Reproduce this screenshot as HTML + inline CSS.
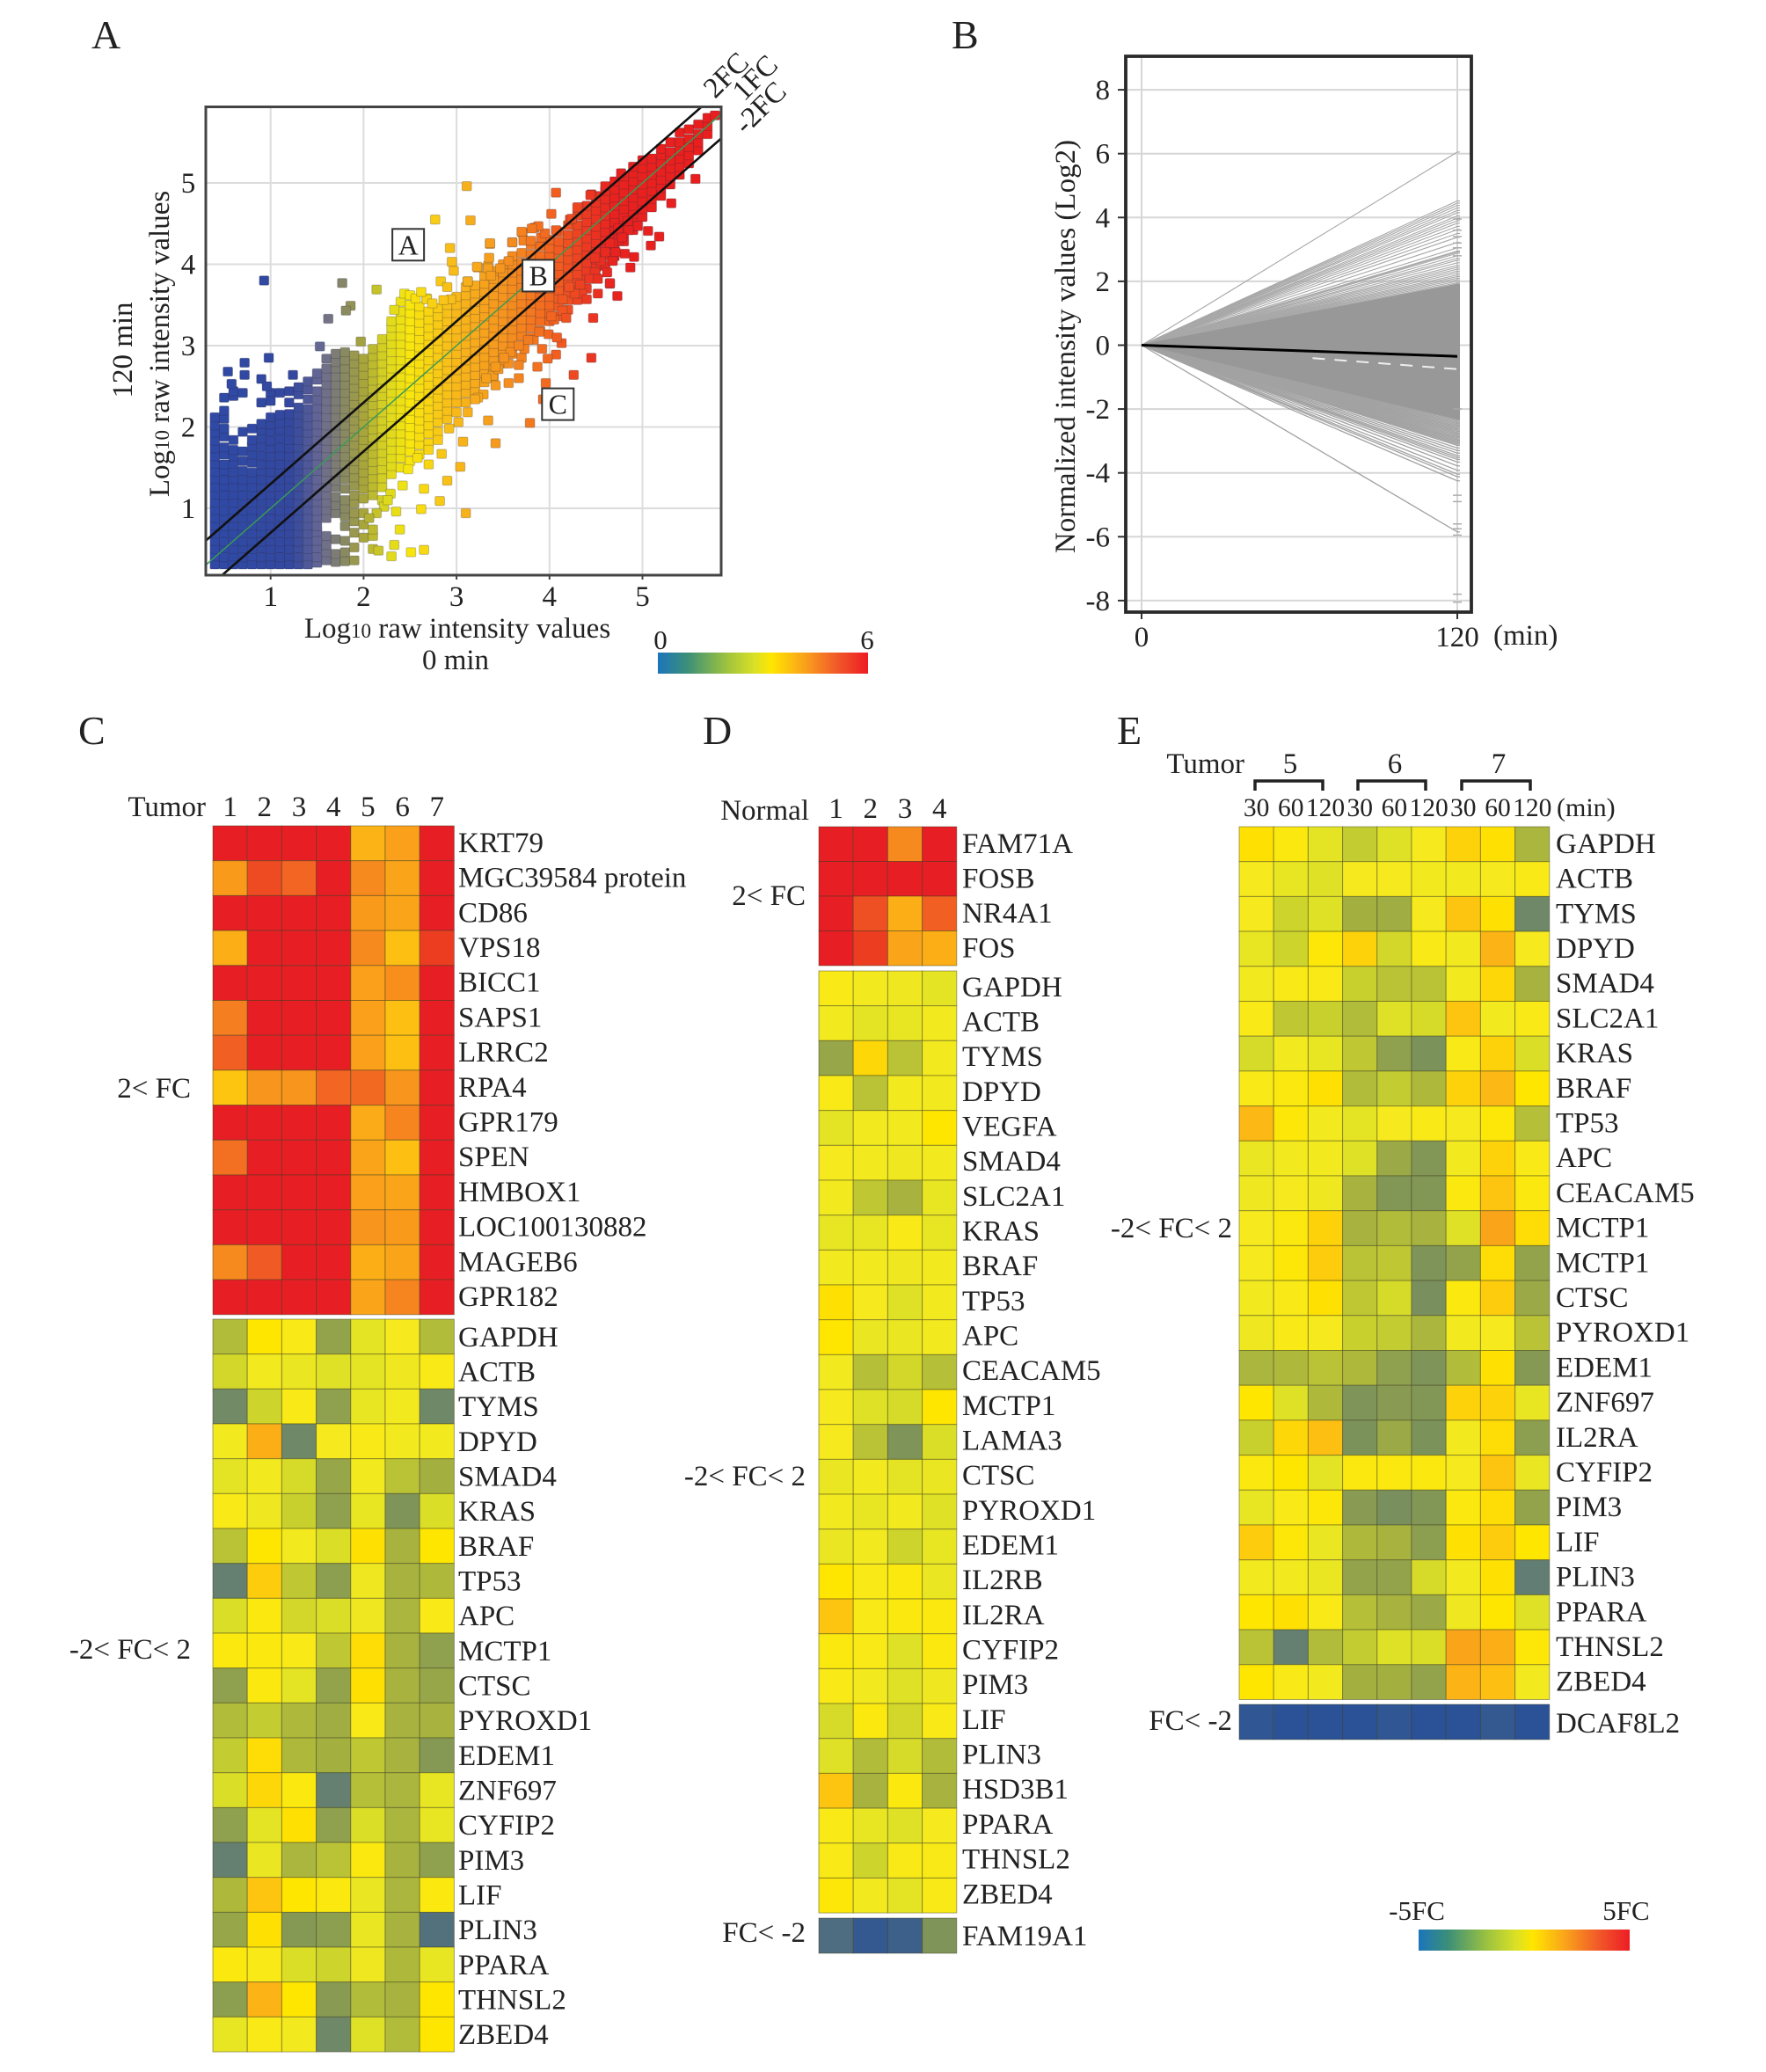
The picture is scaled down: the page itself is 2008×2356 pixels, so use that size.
<!DOCTYPE html>
<html lang="en">
<head>
<meta charset="utf-8">
<title>Scatter, fold-change lines and expression heatmaps</title>
<style>
html,body{margin:0;padding:0;background:#fff;}
svg{display:block;}
text{font-family:"Liberation Serif",serif;fill:#222;}
</style>
</head>
<body>
<svg id="figure" xmlns="http://www.w3.org/2000/svg" width="2008" height="2356" viewBox="0 0 2008 2356">
<defs>
<linearGradient id="barA" x1="0" x2="1" y1="0" y2="0">
<stop offset="0" stop-color="#1b75bb"/><stop offset=".14" stop-color="#3b8f78"/><stop offset=".33" stop-color="#9fc43e"/><stop offset=".46" stop-color="#d9e026"/><stop offset=".54" stop-color="#ffe600"/><stop offset=".7" stop-color="#f9a11b"/><stop offset=".85" stop-color="#f15a29"/><stop offset="1" stop-color="#ed1c24"/>
</linearGradient>
</defs>
<rect width="2008" height="2356" fill="#fff"/>

<text x="104" y="55" font-size="46">A</text>
<text x="1082" y="55" font-size="46">B</text>
<text x="89" y="846" font-size="46">C</text>
<text x="799" y="846" font-size="46">D</text>
<text x="1270" y="846" font-size="46">E</text>

<g id="panelA"></g>
<text x="520" y="725" font-size="33" text-anchor="middle">Log<tspan font-size="23">10</tspan> raw intensity values</text>
<text x="518" y="761" font-size="33" text-anchor="middle">0 min</text>
<text transform="translate(150,398) rotate(-90)" font-size="33" text-anchor="middle">120 min</text>
<text transform="translate(192,391) rotate(-90)" font-size="33" text-anchor="middle">Log<tspan font-size="23">10</tspan> raw intensity values</text>
<text transform="translate(813,113) rotate(-45)" font-size="33">2FC</text>
<text transform="translate(846,116) rotate(-45)" font-size="33">1FC</text>
<text transform="translate(848,154) rotate(-45)" font-size="33">-2FC</text>
<rect x="748" y="742" width="239" height="24" fill="url(#barA)"/>
<text x="751" y="738" font-size="31" text-anchor="middle">0</text>
<text x="986" y="738" font-size="31" text-anchor="middle">6</text>

<g id="panelB"></g>
<text transform="translate(1222,394) rotate(-90)" font-size="33" text-anchor="middle">Normalized intensity values (Log2)</text>
<text x="1698" y="733" font-size="33">(min)</text>

<g id="panelC"></g>
<g id="panelD"></g>
<g id="panelE"></g>

<text x="234" y="928" font-size="33" text-anchor="end">Tumor</text>
<text x="217" y="1248" font-size="33" text-anchor="end">2&lt; FC</text>
<text x="217" y="1886" font-size="33" text-anchor="end">-2&lt; FC&lt; 2</text>
<text x="920" y="932" font-size="33" text-anchor="end">Normal</text>
<text x="916" y="1029" font-size="33" text-anchor="end">2&lt; FC</text>
<text x="916" y="1689" font-size="33" text-anchor="end">-2&lt; FC&lt; 2</text>
<text x="916" y="2208" font-size="33" text-anchor="end">FC&lt; -2</text>
<text x="1415" y="879" font-size="33" text-anchor="end">Tumor</text>
<text x="1401" y="1407" font-size="33" text-anchor="end">-2&lt; FC&lt; 2</text>
<text x="1401" y="1967" font-size="33" text-anchor="end">FC&lt; -2</text>
<text x="1770" y="928" font-size="30">(min)</text>
<path d="M1427 899V888H1504V899" fill="none" stroke="#222" stroke-width="3.5"/>
<path d="M1544 899V888H1621V899" fill="none" stroke="#222" stroke-width="3.5"/>
<path d="M1662 899V888H1740V899" fill="none" stroke="#222" stroke-width="3.5"/>
<text x="1467" y="879" font-size="33" text-anchor="middle">5</text>
<text x="1586" y="879" font-size="33" text-anchor="middle">6</text>
<text x="1704" y="879" font-size="33" text-anchor="middle">7</text>
<rect x="1613" y="2194" width="240" height="24" fill="url(#barA)"/>
<text x="1611" y="2183" font-size="31" text-anchor="middle">-5FC</text>
<text x="1849" y="2183" font-size="31" text-anchor="middle">5FC</text>
</svg>

<script>
/* ---------- Panel A data: log10 intensities (0 min on x, 120 min on y) ---------- */
var scatterXTicks = [1, 2, 3, 4, 5];
var scatterYTicks = [1, 2, 3, 4, 5];
var foldLineOffsets = [0.3, 0, -0.3];
/* each column: first value is x, remaining values are y readings */
var scatterColumns = [
[.40,.31,.41,.50,.60,.69,.79,.88,.98,1.07,1.17,1.26,1.36,1.45,1.55,1.64,1.74,1.83,1.93,2.02,2.12],
[.50,.31,.40,.51,.59,.70,.78,.89,.97,1.08,1.16,1.27,1.35,1.46,1.54,1.66,1.75,1.88,1.98,2.10,2.20,2.36],
[.60,.31,.41,.50,.60,.69,.79,.88,.98,1.07,1.17,1.26,1.36,1.45,1.55,1.64,1.72,1.84,2.38,2.44],
[.70,.31,.40,.51,.59,.70,.78,.89,.97,1.08,1.16,1.27,1.35,1.46,1.58,1.70,1.94,2.42],
[.80,.31,.41,.50,.60,.69,.79,.88,.98,1.07,1.17,1.26,1.36,1.44,1.56,1.66,1.76,1.84,1.98],
[.90,.31,.40,.51,.59,.70,.78,.89,.97,1.08,1.16,1.27,1.35,1.46,1.54,1.65,1.76,1.86,1.96,2.04,2.30],
[1.00,.31,.41,.50,.60,.69,.79,.88,.98,1.07,1.17,1.26,1.36,1.45,1.55,1.64,1.74,1.83,1.94,2.03,2.12,2.42,2.32],
[1.10,.31,.40,.51,.59,.70,.78,.89,.97,1.08,1.16,1.27,1.35,1.46,1.54,1.65,1.75,1.86,1.96,2.05,2.15,2.42],
[1.20,.31,.41,.50,.60,.69,.79,.88,.98,1.07,1.17,1.26,1.36,1.45,1.55,1.64,1.74,1.84,1.95,2.06,2.16,2.30,2.44],
[1.30,.31,.40,.51,.59,.70,.78,.89,.97,1.08,1.16,1.27,1.35,1.46,1.54,1.65,1.75,1.84,1.94,2.05,2.15,2.24,2.40,2.49],
[1.40,.31,.41,.50,.60,.69,.79,.88,.98,1.07,1.17,1.26,1.36,1.45,1.55,1.64,1.74,1.83,1.93,2.02,2.12,2.22,2.34,2.46,2.56],
[1.50,.33,.40,.51,.60,.71,.78,.89,.97,1.08,1.16,1.27,1.35,1.46,1.54,1.65,1.75,1.84,1.94,2.03,2.13,2.23,2.33,2.44,2.58,2.66],
[1.60,.36,.46,.55,.66,.88,.98,1.07,1.17,1.26,1.36,1.45,1.55,1.64,1.74,1.83,1.93,2.02,2.12,2.22,2.32,2.42,2.52,2.62,2.72,2.84],
[1.70,.34,.44,.62,.94,1.04,1.14,1.26,1.34,1.45,1.55,1.64,1.74,1.83,1.93,2.02,2.12,2.22,2.32,2.42,2.52,2.62,2.72,2.80,2.90],
[1.80,.35,.46,.60,.78,.90,1.00,1.10,1.24,1.36,1.45,1.55,1.64,1.74,1.83,1.93,2.02,2.12,2.22,2.32,2.42,2.52,2.62,2.72,2.82,2.92],
[1.90,.36,.52,.70,.84,.94,1.06,1.16,1.28,1.38,1.48,1.58,1.68,1.78,1.88,1.98,2.08,2.18,2.28,2.38,2.48,2.58,2.68,2.78,2.88],
[2.00,.64,.80,.94,1.12,1.24,1.34,1.44,1.54,1.64,1.74,1.84,1.94,2.04,2.14,2.24,2.34,2.44,2.54,2.64,2.74,2.84],
[2.10,.50,.66,1.16,1.27,1.37,1.47,1.57,1.67,1.77,1.87,1.97,2.07,2.17,2.27,2.37,2.47,2.57,2.67,2.77,2.87,2.96],
[2.20,1.10,1.26,1.37,1.48,1.58,1.68,1.78,1.88,1.98,2.08,2.18,2.28,2.38,2.48,2.58,2.68,2.78,2.88,2.98,3.08],
[2.30,1.42,1.52,1.62,1.72,1.82,1.92,2.02,2.12,2.22,2.32,2.42,2.52,2.62,2.72,2.82,2.92,3.02,3.12,3.22,3.30],
[2.40,1.50,1.62,1.72,1.82,1.92,2.02,2.12,2.22,2.32,2.42,2.52,2.62,2.72,2.82,2.92,3.02,3.12,3.22,3.32,3.42,3.54],
[2.50,1.58,1.70,1.80,1.90,2.00,2.10,2.20,2.30,2.40,2.50,2.60,2.70,2.80,2.90,3.00,3.10,3.20,3.30,3.40,3.50],
[2.60,1.66,1.78,1.88,1.98,2.08,2.18,2.28,2.38,2.48,2.58,2.68,2.78,2.88,2.98,3.08,3.18,3.28,3.38,3.48],
[2.70,1.80,1.92,2.02,2.12,2.22,2.32,2.42,2.52,2.62,2.72,2.82,2.92,3.02,3.12,3.22,3.32,3.42],
[2.80,1.94,2.06,2.16,2.26,2.36,2.46,2.56,2.66,2.76,2.86,2.96,3.06,3.16,3.26,3.36,3.46],
[2.90,2.10,2.20,2.30,2.40,2.50,2.60,2.70,2.80,2.90,3.00,3.10,3.20,3.30,3.40,3.50],
[3.00,2.18,2.30,2.40,2.50,2.60,2.70,2.80,2.90,3.00,3.10,3.20,3.30,3.40,3.50,3.60],
[3.10,2.30,2.42,2.52,2.62,2.72,2.82,2.92,3.02,3.12,3.22,3.32,3.42,3.52,3.62,3.72],
[3.20,2.44,2.54,2.64,2.74,2.84,2.94,3.04,3.14,3.24,3.34,3.44,3.54,3.64,3.74],
[3.30,2.55,2.66,2.76,2.86,2.96,3.06,3.16,3.26,3.36,3.46,3.56,3.66,3.76,3.86],
[3.40,2.60,2.72,2.82,2.92,3.02,3.12,3.22,3.32,3.42,3.52,3.62,3.72,3.82,3.92],
[3.50,2.78,2.90,3.00,3.10,3.20,3.30,3.40,3.50,3.60,3.70,3.80,3.90,4.00],
[3.60,2.90,3.00,3.10,3.20,3.30,3.40,3.50,3.60,3.70,3.80,3.90,4.00,4.10],
[3.70,3.00,3.12,3.22,3.32,3.42,3.52,3.62,3.72,3.82,3.92,4.02,4.14],
[3.80,3.10,3.22,3.32,3.42,3.52,3.62,3.72,3.82,3.92,4.02,4.12,4.24],
[3.90,3.18,3.30,3.40,3.50,3.60,3.70,3.80,3.90,4.00,4.10,4.22],
[4.00,3.30,3.40,3.50,3.60,3.70,3.80,3.90,4.00,4.10,4.20,4.30],
[4.10,3.36,3.48,3.58,3.68,3.78,3.88,3.98,4.08,4.18,4.28,4.40],
[4.20,3.44,3.56,3.66,3.76,3.86,3.96,4.06,4.16,4.26,4.36,4.48],
[4.30,3.56,3.68,3.78,3.88,3.98,4.08,4.18,4.28,4.38,4.48,4.60],
[4.40,3.70,3.82,3.92,4.02,4.12,4.22,4.32,4.42,4.52,4.62,4.72],
[4.50,3.84,3.96,4.06,4.16,4.26,4.36,4.46,4.56,4.66,4.76,4.84],
[4.60,3.98,4.10,4.20,4.30,4.40,4.50,4.60,4.70,4.80,4.90,4.96],
[4.70,4.10,4.22,4.32,4.42,4.52,4.62,4.72,4.82,4.92,5.02],
[4.80,4.28,4.38,4.48,4.58,4.68,4.78,4.88,4.98,5.08],
[4.90,4.42,4.52,4.62,4.72,4.82,4.92,5.02,5.12,5.20],
[5.00,4.58,4.68,4.78,4.88,4.98,5.08,5.18,5.28],
[5.10,4.70,4.80,4.90,5.00,5.10,5.20,5.30],
[5.20,4.84,4.94,5.04,5.14,5.24,5.34,5.42],
[5.30,4.98,5.08,5.18,5.28,5.38,5.50],
[5.40,5.10,5.20,5.30,5.40,5.50,5.62],
[5.50,5.24,5.34,5.44,5.54,5.66],
[5.60,5.40,5.50,5.60,5.72],
[5.70,5.60,5.70,5.80],
[5.78,5.83]
];
var outlierX = [.93,.72,.72,.54,.98,1.24,.90,.96,.58,1.53,1.97,1.62,1.86,1.81,1.77,2.14,2.77,3.11,3.15,2.93,2.95,2.97,2.83,2.90,3.12,3.23,3.36,3.34,3.60,3.71,3.84,3.91,4.07,4.02,4.45,4.31,4.22,2.44,2.33,2.68,5.57,5.31,5.18,5.06,5.09,4.91,4.87,4.73,4.65,4.47,4.45,4.26,4.13,4.07,3.98,3.87,3.96,3.93,3.79,3.42,3.34,3.07,3.04,2.90,2.82,3.10,2.65,2.62,2.70,2.84,2.65,2.51,2.30,2.16,2.42,2.29,2.35,2.39,2.33,2.10,
4.90,4.95,4.85,4.74,4.81,4.71,4.68,4.62,4.65,4.49,4.52,4.35,4.27,4.14,4.05,4.18,3.99,4.08,3.92,3.70,3.67,3.56,3.67,3.56,3.42,3.29,3.23,3.39,3.83,3.73,3.58,3.45,4.33,4.43,4.55,4.60,4.68,4.78,4.40,4.21,4.14,4.02,3.89,3.77,3.67,3.51,3.42,3.32,4.52,4.49,4.65,4.74,4.84,
4.44,4.30,4.24,4.77,4.07,3.95,3.88,3.81,3.70,3.72,3.80,3.60,3.36,3.35,3.34,3.22,3.56,3.47,3.37,2.94,3.12,2.68,2.50,2.56,2.62,2.74,2.86,
3.12,3.02,2.92,2.80,2.70,2.58,2.48,3.20,2.22,2.14,2.06,2.26];
var outlierY = [3.80,2.79,2.64,2.68,2.85,2.64,2.59,2.50,2.53,2.99,3.05,3.33,3.49,3.43,3.77,3.69,4.55,4.96,4.54,4.20,4.03,3.92,3.79,3.72,3.79,3.96,4.25,3.98,4.27,4.39,4.45,4.33,4.88,4.62,4.86,4.70,4.55,3.64,3.44,3.58,5.05,4.75,4.34,4.41,4.23,4.09,3.96,3.61,3.76,3.34,2.85,2.64,3.03,2.89,2.84,2.74,2.54,2.34,2.05,1.80,2.08,1.82,1.51,1.34,1.09,.94,1.24,.99,1.54,1.67,.49,.46,.41,.48,1.28,1.18,.96,.74,.55,.74,
4.47,4.47,4.42,4.29,4.13,4.15,4.04,3.90,3.77,3.90,3.64,3.64,3.64,3.43,3.32,3.34,3.14,3.10,2.96,2.85,2.76,2.78,2.60,2.54,2.51,2.40,2.36,2.63,3.07,2.96,2.92,2.71,3.75,3.82,4.04,4.15,4.26,4.33,3.57,3.72,3.57,3.36,3.17,3.07,3.00,2.85,2.74,2.60,3.82,4.08,4.26,4.44,4.53,
4.85,4.70,4.56,5.12,4.42,4.38,4.47,4.44,4.40,4.29,4.29,4.27,4.26,4.08,3.95,3.97,4.04,3.95,3.86,3.57,3.79,3.57,3.62,3.58,3.66,3.52,3.56,
2.18,2.06,1.98,1.84,1.72,1.62,1.48,2.34,1.02,.94,.88,1.10];
var scatterBoxLabels = ["A", "B", "C"];
var scatterBoxLabelX = [2.48, 3.88, 4.09];
var scatterBoxLabelY = [4.24, 3.86, 2.28];

/* ---------- Panel B data: log2 value at 120 min for each line (all start at 0) ---------- */
var lineYTicks = [8, 6, 4, 2, 0, -2, -4, -6, -8];
var lineXTicks = [0, 120];
var fanUpper = [6.05,4.52,4.45,4.38,4.30,4.22,4.15,4.05,3.98,3.90,3.82,3.72,3.62,3.50,3.38,3.22,3.05,2.95,2.92,2.88,2.80,2.72,2.66,2.58,2.50,2.44,2.38,2.32,2.26,2.20,2.15,2.10,2.05,2.00,1.95];
var fanCore = [1.90,1.86,1.82,1.78,1.74,1.70,1.66,1.62,1.58,1.54,1.50,1.46,1.42,1.38,1.34,1.30,1.26,1.22,1.18,1.14,1.10,1.06,1.02,.98,.94,.90,.86,.82,.78,.74,.70,.66,.62,.58,.54,.50,.46,.42,.38,.34,.30,.26,.22,.18,.14,.10,.06,.02,-.02,-.06,-.10,-.14,-.18,-.22,-.26,-.30,-.34,-.38,-.42,-.46,-.50,-.54,-.58,-.62,-.66,-.70,-.74,-.78,-.82,-.86,-.90,-.94,-.98,-1.02,-1.06,-1.10,-1.14,-1.18,-1.22,-1.26,-1.30,-1.34,-1.38,-1.42,-1.46,-1.50,-1.54,-1.58,-1.62,-1.66,-1.70,-1.74,-1.78,-1.82,-1.86,-1.90,-1.94,-1.98,-2.02,-2.06,-2.10,-2.14,-2.18,-2.22,-2.26,-2.30];
var fanLower = [-2.34,-2.38,-2.42,-2.46,-2.50,-2.54,-2.58,-2.62,-2.66,-2.70,-2.74,-2.78,-2.82,-2.86,-2.90,-2.94,-2.98,-3.02,-3.06,-3.10,-3.14,-3.22,-3.30,-3.38,-3.46,-3.52,-3.58,-3.66,-3.78,-3.92,-4.04,-4.12,-4.25,-5.85];
var endMarks = [3.95,3.60,3.40,3.20,3.05,2.80,-2.00,-4.70,-4.90,-5.60,-5.75,-5.95,-7.80,-8.05];
var meanLineEnd = -0.35;
var dashedLineEnd = -0.75;

/* ---------- Heatmap data: fold change, -5 to 5 ---------- */
var tumorColumns = ["1","2","3","4","5","6","7"];
var normalColumns = ["1","2","3","4"];
var timeColumns = ["30","60","120","30","60","120","30","60","120"];

var cUpGenes = ["KRT79","MGC39584 protein","CD86","VPS18","BICC1","SAPS1","LRRC2","RPA4","GPR179","SPEN","HMBOX1","LOC100130882","MAGEB6","GPR182"];
var cUpValues = [
[5,5,5,5,1.3,1.7,5],[1.8,3.3,2.8,5,2.1,1.6,5],[5,5,5,5,1.8,1.6,5],[1.4,5,5,5,2.1,1.1,3.6],
[5,5,5,5,1.7,2,5],[2.3,5,5,5,1.7,1.1,5],[2.9,5,5,5,1.7,1.1,5],[1,1.9,1.9,2.8,2.7,1.9,5],
[5,5,5,5,1.5,2.2,5],[2.6,5,5,5,1.6,1.1,5],[5,5,5,5,1.7,1.6,5],[5,5,5,5,1.9,1.8,5],
[2.1,3,5,5,1.4,1.6,5],[5,5,5,5,1.6,2.2,5]];
var cMidGenes = ["GAPDH","ACTB","TYMS","DPYD","SMAD4","KRAS","BRAF","TP53","APC","MCTP1","CTSC","PYROXD1","EDEM1","ZNF697","CYFIP2","PIM3","LIF","PLIN3","PPARA","THNSL2","ZBED4"];
var cMidValues = [
[-1.6,.4,.1,-2.4,-.5,0,-1.6],[-.9,-.1,-.3,-.6,-.5,-.2,.1],[-3.4,-1,.1,-2.5,-.4,-.1,-3.5],
[-.1,1.4,-3.5,0,.1,-.1,-.1],[-.5,-.1,-.8,-2.3,-.1,-1.4,-2],[.1,-.2,-1.1,-2.5,-.4,-3,-.7],
[-1.4,.4,-.1,-.7,.5,-1.9,.4],[-3.8,.9,-1.3,-2.6,-.2,-1.9,-1.7],[-.7,.2,-.9,-.7,-.2,-1.8,.1],
[.2,.2,.1,-1.3,.6,-1.9,-2.5],[-2.5,.2,-.5,-2.4,.5,-1.9,-2.3],[-1.6,-1.2,-1.7,-2.1,.1,-1.9,-1.9],
[-1.2,.6,-1.7,-2,-1.3,-1.9,-2.8],[-.7,.7,.2,-3.8,-1.5,-1.8,-.4],[-2.5,-.5,.5,-2.5,-.7,-1.8,-.4],
[-3.8,-.3,-1.8,-1.4,.2,-1.9,-2.5],[-1.7,1,.4,.2,-.3,-1.8,.2],[-2.3,.5,-2.8,-2.6,-.3,-1.9,-4.2],
[.2,.1,-.7,-1,-.2,-1.7,-.4],[-2.6,1.3,.4,-2.7,-1.6,-1.9,.4],[-.4,.1,-.1,-3.5,-.6,-1.6,.4]];

var dUpGenes = ["FAM71A","FOSB","NR4A1","FOS"];
var dUpValues = [[5,5,2.1,5],[5,5,5,5],[5,3.2,1.4,2.9],[5,3.6,1.6,1.4]];
var dMidGenes = ["GAPDH","ACTB","TYMS","DPYD","VEGFA","SMAD4","SLC2A1","KRAS","BRAF","TP53","APC","CEACAM5","MCTP1","LAMA3","CTSC","PYROXD1","EDEM1","IL2RB","IL2RA","CYFIP2","PIM3","LIF","PLIN3","HSD3B1","PPARA","THNSL2","ZBED4"];
var dMidValues = [
[.1,-.1,-.2,-.5],[-.1,-.5,-.4,-.1],[-2.3,.7,-1.4,-.1],[.1,-1.4,-.1,-.1],[-.5,-.1,-.1,.4],
[0,-.1,-.2,-.1],[-.1,-1.3,-1.9,-.4],[-.4,-.4,.1,-.4],[-.1,-.1,-.2,-.1],[.5,0,-.6,-.1],
[.4,-.3,-.3,-.1],[-.1,-1.5,-.9,-1.5],[0,-.6,-.8,.4],[0,-1.4,-3,-.7],[-.3,-.1,-.5,-.3],
[-.1,-.4,-.1,-.6],[-.3,-.1,-1,-.4],[.4,.1,.2,-.3],[1,.1,.2,.2],[.2,.1,-.6,.2],
[.1,-.1,-.6,-.2],[-.8,.2,-.9,.1],[-.6,-1.6,-.8,-1.6],[1,-1.9,.2,-1.9],[.1,-.4,-.6,0],
[.1,-1,.1,.1],[.3,-.1,-.5,.1]];
var dDownGenes = ["FAM19A1"];
var dDownValues = [[-4.3,-4.8,-4.6,-3]];

var eMidGenes = ["GAPDH","ACTB","TYMS","DPYD","SMAD4","SLC2A1","KRAS","BRAF","TP53","APC","CEACAM5","MCTP1","MCTP1","CTSC","PYROXD1","EDEM1","ZNF697","IL2RA","CYFIP2","PIM3","LIF","PLIN3","PPARA","THNSL2","ZBED4"];
var eMidValues = [
[.5,.2,-.5,-1.2,-.6,0,.8,.5,-1.8],[0,-.4,-.6,0,0,-.1,-.1,0,.1],[0,-1,-.6,-2,-2.1,0,1,.5,-3.5],
[-.4,-1,.3,.8,-.9,.1,-.1,1.3,0],[-.1,.1,.1,-1.1,-1.4,-1.4,-.1,.7,-1.9],[.1,-1.3,-1.1,-1.6,-.6,-.8,1,-.1,.1],
[-.8,-.1,-.4,-1.3,-2.5,-3.1,.1,.8,-.7],[.1,.2,.5,-1.6,-1.2,-1.7,.8,1.2,.4],[1.2,.3,-.1,-.5,0,.1,0,.3,-1.5],
[-.3,-.1,-.1,-.6,-2.2,-2.9,-.1,.8,.1],[-.2,0,-.2,-1.9,-2.9,-2.9,.2,1,.2],[0,.2,.8,-1.9,-1.6,-1.9,-.6,1.6,.6],
[0,.3,.9,-1.4,-1.3,-3,-2.4,.6,-2.4],[-.1,.1,.5,-1.3,-.8,-3.2,.2,.9,-2.2],[-.2,.1,0,-1.1,-1.2,-1.8,-.1,0,-1.4],
[-1.8,-1.7,-1.4,-1.7,-2.5,-3,-1.6,.5,-2.8],[.4,-.6,-1.7,-3,-2.7,-2.9,.8,.8,-.4],[-1.1,.7,1.1,-3.1,-2.2,-3.1,-.1,.6,-2.6],
[.2,.4,-.5,.2,.2,.2,0,1,-.3],[-.4,.1,.3,-2.7,-3.2,-2.9,.2,.6,-2.4],[.9,.3,-.3,-1.7,-1.9,-2.6,.5,.9,.4],
[-.1,-.1,-.3,-2.4,-2.4,-.8,-.1,.5,-3.9],[.4,.5,.1,-1.5,-1.9,-2.2,-.2,.4,-.6],[-1.4,-3.8,-1.6,-1.2,-.6,-.7,1.6,1.4,.3],
[.4,.1,-.1,-2,-2,-2.4,1.3,1.1,-.1]];
var eDownGenes = ["DCAF8L2"];
var eDownValues = [[-4.9,-5,-5,-5,-4.9,-5,-5,-4.8,-5]];

/* ---------- helpers ---------- */
var NS = "http://www.w3.org/2000/svg";
function make(parent, tag, attrs) {
  var el = document.createElementNS(NS, tag);
  for (var k in attrs) { el.setAttribute(k, attrs[k]); }
  parent.appendChild(el);
  return el;
}
function label(parent, x, y, str, size, anchor) {
  var el = make(parent, "text", {x: x, y: y, "font-size": size, "text-anchor": anchor});
  el.textContent = str;
  return el;
}
function hex(c) { return [parseInt(c.substr(1,2),16), parseInt(c.substr(3,2),16), parseInt(c.substr(5,2),16)]; }
function ramp(stops, v) {
  if (v <= stops[0][0]) { return stops[0][1]; }
  for (var i = 1; i < stops.length; i++) {
    if (v <= stops[i][0]) {
      var t = (v - stops[i-1][0]) / (stops[i][0] - stops[i-1][0]);
      var a = hex(stops[i-1][1]), b = hex(stops[i][1]);
      return "rgb(" + Math.round(a[0]+(b[0]-a[0])*t) + "," + Math.round(a[1]+(b[1]-a[1])*t) + "," + Math.round(a[2]+(b[2]-a[2])*t) + ")";
    }
  }
  return stops[stops.length-1][1];
}

/* ---------- Panel A ---------- */
var pA = document.getElementById("panelA");
var boxA = {l: 234, r: 820, t: 121.5, b: 654};
function xA(v) { return 307.7 + (v - 1) * 105.7; }
function yA(v) { return 578 - (v - 1) * 92.5; }
var scatterStops = [[0,"#2c4aa8"],[1.25,"#34489f"],[1.55,"#6a6a92"],[1.8,"#8a8a62"],[2.0,"#a8a63a"],[2.25,"#dcd81e"],[2.5,"#f8e60e"],[3.0,"#f8b81a"],[3.5,"#f5941e"],[4.0,"#f2661f"],[4.4,"#ec3a22"],[4.7,"#e8221f"],[6,"#e81e1e"]];

scatterXTicks.forEach(function (t) {
  var g = make(pA, "line", {x1: xA(t), x2: xA(t), y1: boxA.t, y2: boxA.b, stroke: "#dcdcdc", "stroke-width": 2});
  
  
  var k = make(pA, "line", {x1: xA(t), x2: xA(t), y1: boxA.b, y2: boxA.b + 5, stroke: "#444", "stroke-width": 2});
  
  
  var l = label(pA, xA(t), 689, String(t), 33, "middle");
  
  
});
scatterYTicks.forEach(function (t) {
  var g = make(pA, "line", {x1: boxA.l, x2: boxA.r, y1: yA(t), y2: yA(t), stroke: "#dcdcdc", "stroke-width": 2});
  
  
  var l = label(pA, 214, yA(t) + 11, String(t), 33, "middle");
  
  
});
function drawPoint(vx, vy) {
  var c = ramp(scatterStops, vx);
  var r = make(pA, "rect", {x: xA(vx) - 5.4, y: yA(vy) - 5.2, width: 10.8, height: 10.4, rx: 1.5, fill: c, stroke: "rgba(40,40,60,.25)", "stroke-width": 1});
  
  
}
scatterColumns.forEach(function (col) {
  for (var i = 1; i < col.length; i++) { drawPoint(col[0], col[i]); }
});
outlierX.forEach(function (vx, i) { drawPoint(vx, outlierY[i]); });

foldLineOffsets.forEach(function (off) {
  var a = Math.max(0.3, 0.18 - off), b = Math.min(5.85, 5.94 - off);
  var ln = make(pA, "line", {x1: xA(a), y1: yA(a + off), x2: xA(b), y2: yA(b + off), stroke: off === 0 ? "#3b9a55" : "#111", "stroke-width": off === 0 ? 1.5 : 2.6});
  
  
});
var frameA = make(pA, "rect", {x: boxA.l, y: boxA.t, width: boxA.r - boxA.l, height: boxA.b - boxA.t, fill: "none", stroke: "#444", "stroke-width": 3});


scatterBoxLabels.forEach(function (s, i) {
  var cx = xA(scatterBoxLabelX[i]), cy = yA(scatterBoxLabelY[i]);
  var b = make(pA, "rect", {x: cx - 18, y: cy - 18, width: 36, height: 36, fill: "#fff", stroke: "#333", "stroke-width": 2});
  
  
  var t = label(pA, cx, cy + 11, s, 32, "middle");
  
  
});

/* ---------- Panel B ---------- */
var pB = document.getElementById("panelB");
var boxB = {l: 1280, r: 1673, t: 64, b: 696};
function xB(t) { return 1298 + t / 120 * 359; }
function yB(v) { return 392.5 - v * 36.3; }
lineYTicks.forEach(function (t) {
  var g = make(pB, "line", {x1: boxB.l, x2: boxB.r, y1: yB(t), y2: yB(t), stroke: "#d6d6d6", "stroke-width": 2});
  
  
  var k = make(pB, "line", {x1: boxB.l - 9, x2: boxB.l, y1: yB(t), y2: yB(t), stroke: "#333", "stroke-width": 2});
  
  
  var l = label(pB, 1262, yB(t) + 11, String(t), 33, "end");
  
  
});
lineXTicks.forEach(function (t) {
  var g = make(pB, "line", {x1: xB(t), x2: xB(t), y1: boxB.t, y2: boxB.b, stroke: "#d6d6d6", "stroke-width": 2});
  
  
  var k = make(pB, "line", {x1: xB(t), x2: xB(t), y1: boxB.b, y2: boxB.b + 8, stroke: "#333", "stroke-width": 2});
  
  
  var l = label(pB, xB(t), 735, String(t), 33, "middle");
  
  
});
function drawFan(v, color, width) {
  var p = make(pB, "path", {d: "M" + xB(0) + " " + yB(0) + "L" + xB(120) + " " + yB(v) + "h3", fill: "none", stroke: color, "stroke-width": width});
  
  
}
fanUpper.forEach(function (v) { drawFan(v, "#a8a8a8", 1.1); });
fanCore.forEach(function (v) { drawFan(v, "#989898", 2); });
fanLower.forEach(function (v) { drawFan(v, "#a2a2a2", 1.3); });
endMarks.forEach(function (v) {
  var m = make(pB, "line", {x1: xB(120) - 5, x2: xB(120) + 5, y1: yB(v), y2: yB(v), stroke: "#a8a8a8", "stroke-width": 1.4});
  
  
});
var dash = make(pB, "line", {x1: xB(65), y1: yB(dashedLineEnd * 65 / 120), x2: xB(120), y2: yB(dashedLineEnd), stroke: "#eeeeee", "stroke-width": 2, "stroke-dasharray": "14 11"});


var mean = make(pB, "line", {x1: xB(0), y1: yB(0), x2: xB(120), y2: yB(meanLineEnd), stroke: "#000", "stroke-width": 3});


var frameB = make(pB, "rect", {x: boxB.l, y: boxB.t, width: boxB.r - boxB.l, height: boxB.b - boxB.t, fill: "none", stroke: "#2a2a2a", "stroke-width": 3.8});



/* ---------- Heatmaps ---------- */
var heatStops = [[-5,"#2b5297"],[-4.5,"#426487"],[-4,"#5f7a76"],[-3.5,"#6f8868"],[-3,"#7f9458"],[-2.5,"#8fa04e"],[-2,"#a3b040"],[-1.5,"#b5bf38"],[-1,"#cdd42c"],[-.5,"#e4e424"],[0,"#f6ea1e"],[.4,"#fee600"],[.8,"#fdd20a"],[1.2,"#fcb814"],[1.7,"#faa01a"],[2.2,"#f6841f"],[3,"#f05a24"],[4,"#e9291f"],[5,"#e81e25"]];
function drawHeat(parent, x0, y0, cw, ch, genes, values, labelX, labelDy) {
  values.forEach(function (row, i) {
    row.forEach(function (v, j) {
      var r = make(parent, "rect", {x: x0 + j * cw, y: y0 + i * ch, width: cw, height: ch, fill: ramp(heatStops, v), stroke: "rgba(60,60,30,.45)", "stroke-width": 1});
      
      
    });
    var t = label(parent, labelX, y0 + (i + .5) * ch + labelDy, genes[i], 33, "start");
    
    
  });
}
function drawColumnLabels(parent, x0, cw, y, names, size) {
  names.forEach(function (s, j) {
    var t = label(parent, x0 + (j + .5) * cw, y, s, size, "middle");
    
    
  });
}
var pC = document.getElementById("panelC");
drawHeat(pC, 242, 939, 39.2, 39.7, cUpGenes, cUpValues, 521, 10);
drawHeat(pC, 242, 1500, 39.2, 39.67, cMidGenes, cMidValues, 521, 11);
drawColumnLabels(pC, 242, 39.2, 928, tumorColumns, 33);
var pD = document.getElementById("panelD");
drawHeat(pD, 931, 940, 39.2, 39.5, dUpGenes, dUpValues, 1094, 10);
drawHeat(pD, 931, 1104, 39.2, 39.67, dMidGenes, dMidValues, 1094, 9);
drawHeat(pD, 931, 2181, 39.2, 40, dDownGenes, dDownValues, 1094, 11);
drawColumnLabels(pD, 931, 39.2, 930, normalColumns, 33);
var pE = document.getElementById("panelE");
drawHeat(pE, 1409, 940, 39.2, 39.7, eMidGenes, eMidValues, 1769, 10);
drawHeat(pE, 1409, 1938, 39.2, 40, eDownGenes, eDownValues, 1769, 12);
drawColumnLabels(pE, 1409, 39.2, 928, timeColumns, 29.5);
</script>
</body>
</html>
